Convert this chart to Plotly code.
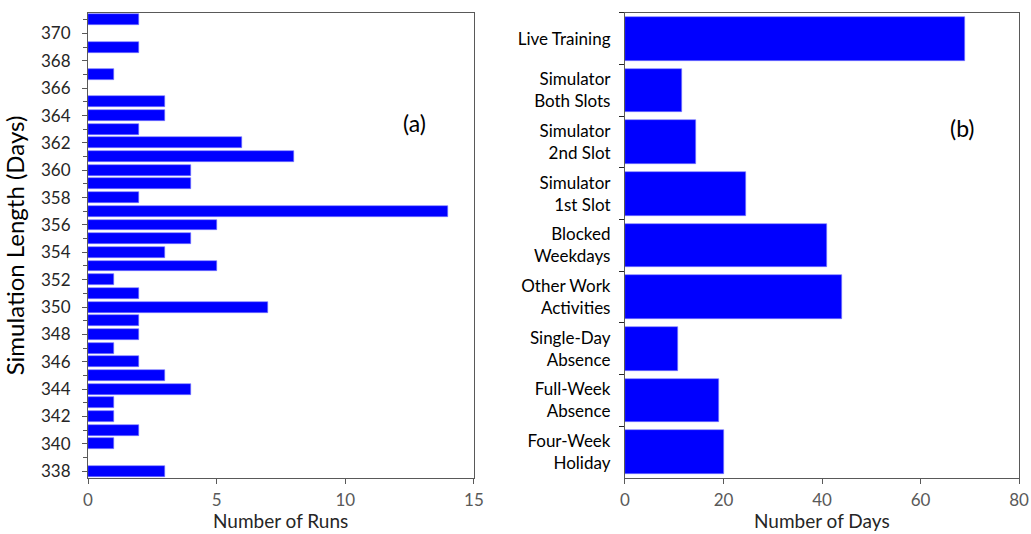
import plotly.graph_objects as go

# Panel (a): distribution of simulation lengths
sim_days = [371, 369, 367, 365, 364, 363, 362, 361, 360, 359, 358, 357, 356, 355,
            354, 353, 352, 351, 350, 349, 348, 347, 346, 345, 344, 343, 342, 341,
            340, 338]
run_counts = [2, 2, 1, 3, 3, 2, 6, 8, 4, 4, 2, 14, 5, 4,
              3, 5, 1, 2, 7, 2, 2, 1, 2, 3, 4, 1, 1, 2,
              1, 3]

# Panel (b): days spent per activity
activities = ["Live Training", "Simulator<br>Both Slots", "Simulator<br>2nd Slot",
              "Simulator<br>1st Slot", "Blocked<br>Weekdays", "Other Work<br>Activities",
              "Single-Day<br>Absence", "Full-Week<br>Absence", "Four-Week<br>Holiday"]
activity_days = [69, 11.5, 14.5, 24.5, 41, 44, 10.7, 19, 20]

FONT = "Lato, Open Sans, sans-serif"
BLUE = "#0000ff"
EDGE = "#7f7fff"
AXIS = "#595959"

X1_DOMAIN = [0.0854, 0.4597]
X2_DOMAIN = [0.6062, 0.9884]
Y_DOMAIN = [0.1049, 0.9757]

fig = go.Figure()

fig.add_trace(go.Bar(
    x=run_counts, y=sim_days, orientation="h", width=0.8,
    marker=dict(color=BLUE, line=dict(color=EDGE, width=0.6)),
    xaxis="x", yaxis="y", showlegend=False,
))
fig.add_trace(go.Bar(
    x=activity_days, y=activities, orientation="h", width=0.85,
    marker=dict(color=BLUE, line=dict(color=EDGE, width=0.6)),
    xaxis="x2", yaxis="y2", showlegend=False,
))

common_x = dict(showgrid=False, zeroline=False, ticks="outside", ticklen=5,
                tickcolor=AXIS, showline=True, linecolor=AXIS, linewidth=1.2,
                mirror=True, automargin=False, ticklabelstandoff=2,
                tickfont=dict(family=FONT, size=17, color=AXIS))

title_font = dict(family=FONT, size=19, color="#262626")

fig.update_layout(
    width=1031, height=534,
    margin=dict(l=0, r=0, t=0, b=0),
    plot_bgcolor="white", paper_bgcolor="white",
    font=dict(family=FONT, color="black"),
    bargap=0,
    xaxis=dict(domain=X1_DOMAIN, range=[0, 15], dtick=5, anchor="y", **common_x),
    yaxis=dict(domain=Y_DOMAIN, range=[337.5, 371.5], dtick=2, tick0=338,
               showgrid=False, zeroline=False, ticks="outside", ticklen=5,
               tickcolor=AXIS, showline=True, linecolor=AXIS, linewidth=1.2, mirror=True,
               automargin=False, ticklabelstandoff=8,
               tickfont=dict(family=FONT, size=17, color="#262626"),
               minor=dict(dtick=1, tick0=337, ticks="outside", ticklen=4, tickcolor=AXIS),
               title=dict(text="Simulation Length (Days)",
                          font=dict(family=FONT, size=24, color="black")),
               anchor="x"),
    xaxis2=dict(domain=X2_DOMAIN, range=[0, 80], dtick=20, anchor="y2", **common_x),
    yaxis2=dict(domain=Y_DOMAIN, type="category",
                categoryorder="array", categoryarray=activities[::-1],
                range=[-0.5, len(activities) - 0.5],
                tickson="boundaries", ticks="outside", ticklen=5, tickcolor="#262626",
                showgrid=False, zeroline=False, showline=True, linecolor=AXIS,
                linewidth=1.2, mirror=True, automargin=False, ticklabelstandoff=10,
                tickfont=dict(family=FONT, size=17, color="black"),
                anchor="x2"),
    annotations=[
        # x-axis titles sit at the bottom edge of the page
        dict(text="Number of Runs", xref="paper", yref="paper",
             x=sum(X1_DOMAIN) / 2, y=0, xanchor="center", yanchor="bottom",
             showarrow=False, font=title_font),
        dict(text="Number of Days", xref="paper", yref="paper",
             x=sum(X2_DOMAIN) / 2, y=0, xanchor="center", yanchor="bottom",
             showarrow=False, font=title_font),
        dict(text="(a)", xref="x", yref="paper", x=12.7, y=0.80, showarrow=False,
             font=dict(family=FONT, size=23, color="black")),
        dict(text="(b)", xref="x2", yref="paper", x=68.5, y=0.79, showarrow=False,
             font=dict(family=FONT, size=23, color="black")),
    ],
)

fig.write_html("out.html")
